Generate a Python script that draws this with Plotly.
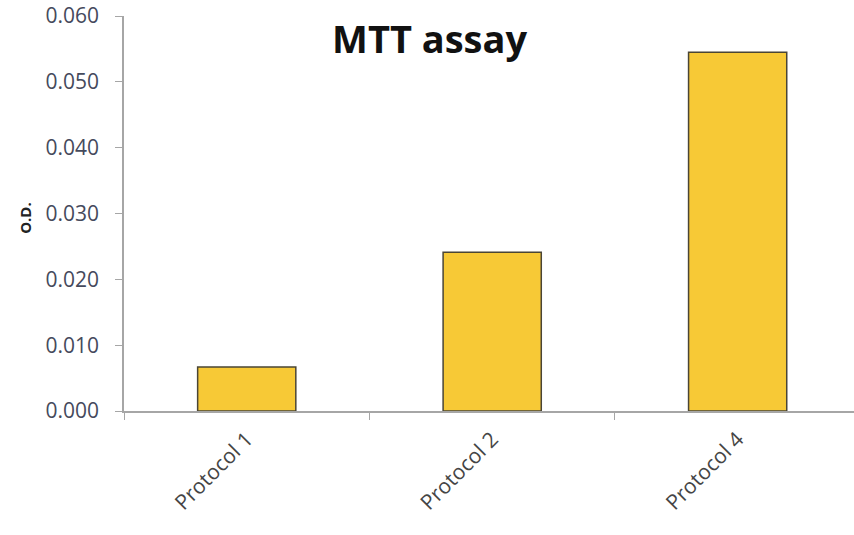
import plotly.graph_objects as go

categories = ["Protocol 1", "Protocol 2", "Protocol 4"]
od_values = [0.0067, 0.0241, 0.0545]
y_ticks = [0.0, 0.01, 0.02, 0.03, 0.04, 0.05, 0.06]
y_tick_labels = ["0.000", "0.010", "0.020", "0.030", "0.040", "0.050", "0.060"]

fig = go.Figure()
fig.add_trace(go.Bar(
    x=categories, y=od_values, width=0.4,
    marker=dict(color="#F7C936", line=dict(color="#4a4535", width=1.5)),
))

font_family = "Open Sans, Liberation Sans, sans-serif"
fig.update_layout(
    width=854, height=535,
    margin=dict(l=124, r=0, t=16, b=124),
    paper_bgcolor="white", plot_bgcolor="white",
    showlegend=False,
    font=dict(family=font_family, color="#404040"),
    title=dict(text="<b>MTT assay</b>", x=0.503, xanchor="center", y=0.925, yanchor="middle",
               font=dict(size=38, color="#111111", family=font_family)),
    xaxis=dict(
        range=[-0.5, 2.474], showline=True, linecolor="#a6a6a6", linewidth=1.5,
        ticks="outside", ticklen=7, tickcolor="#a6a6a6", tickson="boundaries",
        tickangle=-45, tickfont=dict(size=21, color="#454545"), showgrid=False,
        ticklabelstandoff=6, automargin=False,
    ),
    yaxis=dict(
        range=[0, 0.06], tickvals=y_ticks, ticktext=y_tick_labels,
        showline=True, linecolor="#a6a6a6", linewidth=1.5,
        ticks="outside", ticklen=7, tickcolor="#a6a6a6",
        tickfont=dict(size=21, color="#454a5c"), showgrid=False, zeroline=False,
        ticklabelstandoff=12, ticklabeloverflow="allow", automargin=False,
    ),
)
fig.add_annotation(text="<b>O.D.</b>", xref="paper", yref="paper", x=-0.1356, y=0.489,
                   xanchor="center", yanchor="middle",
                   textangle=-90, showarrow=False, font=dict(size=15, color="#222222"))

fig.write_html("out.html", config={"displayModeBar": False},
               post_script="document.body.style.margin='0';")
